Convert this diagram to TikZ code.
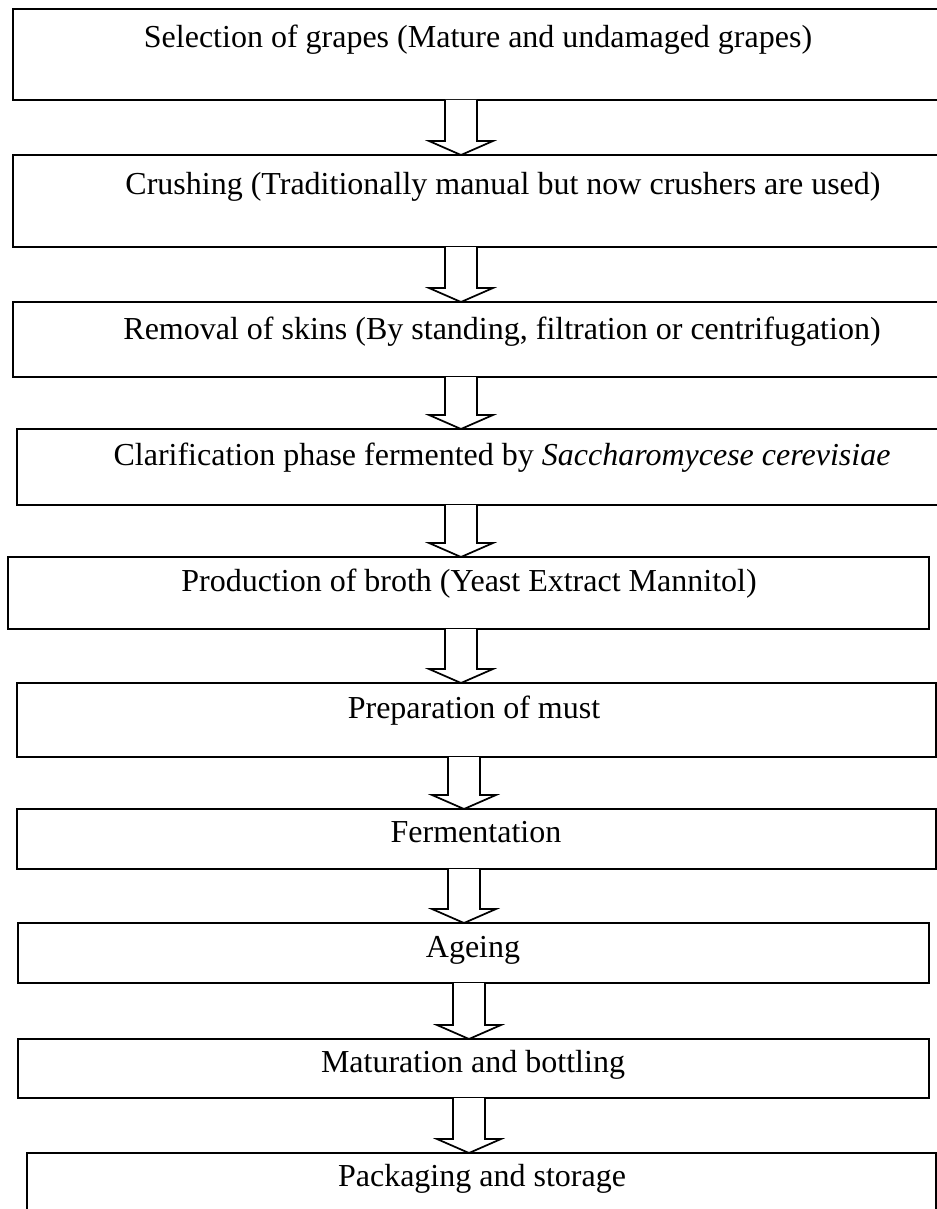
\documentclass[tikz,border=0pt]{standalone}
\usepackage{fontspec}
\setmainfont{Liberation Serif}
\usetikzlibrary{calc}
\tikzset{
  stepbox/.style={draw=black, line width=1.3pt, rectangle, inner sep=0pt, outer sep=0pt, anchor=north west},
  steptext/.style={inner sep=0pt, outer sep=0pt, font=\fontsize{24pt}{28pt}\selectfont, text height=0.7em, text depth=0.22em},
  arr/.style={draw=black, line width=1.3pt, line join=miter, fill=white}
}
\newcommand\flowarr[3]{%
  \draw[arr] ($(#1.south -| #3)+(-16,0)$) -- ($(#2.north -| #3)+(-16,-14)$) -- ($(#2.north -| #3)+(-32,-14)$) -- (#2.north -| #3) -- ($(#2.north -| #3)+(32,-14)$) -- ($(#2.north -| #3)+(16,-14)$) -- ($(#1.south -| #3)+(16,0)$);%
}
\begin{document}
\begin{tikzpicture}[x=0.75pt,y=-0.75pt]
\useasboundingbox (0,0) rectangle (937,1209);
\clip (0,0) rectangle (937,1209);
\fill[white] (0,0) rectangle (937,1209);
% boxes
\node[stepbox, minimum width=699pt,    minimum height=68.25pt] (b1)  at (13,9) {};
\node[stepbox, minimum width=732.75pt, minimum height=69pt]    (b2)  at (13,155) {};
\node[stepbox, minimum width=732.75pt, minimum height=56.25pt] (b3)  at (13,302) {};
\node[stepbox, minimum width=729.75pt, minimum height=57pt]    (b4)  at (17,429) {};
\node[stepbox, minimum width=690.75pt, minimum height=54pt]    (b5)  at (8,557) {};
\node[stepbox, minimum width=689.25pt, minimum height=55.5pt]  (b6)  at (17,683) {};
\node[stepbox, minimum width=689.25pt, minimum height=45pt]    (b7)  at (17,809) {};
\node[stepbox, minimum width=683.25pt, minimum height=45pt]    (b8)  at (18,923) {};
\node[stepbox, minimum width=683.25pt, minimum height=44.25pt] (b9)  at (18,1039) {};
\node[stepbox, minimum width=681.75pt, minimum height=80.25pt] (b10) at (27,1153) {};
% texts
\node[steptext] (t1)  at (478,44)   {Selection of grapes (Mature and undamaged grapes)};
\node[steptext] (t2)  at (503,191)  {Crushing (Traditionally manual but now crushers are used)};
\node[steptext] (t3)  at (502,336)  {Removal of skins (By standing, filtration or centrifugation)};
\node[steptext] (t4)  at (502,462)  {Clarification phase fermented by \textit{Saccharomycese cerevisiae}};
\node[steptext] (t5)  at (469,588)  {Production of broth (Yeast Extract Mannitol)};
\node[steptext] (t6)  at (474,715)  {Preparation of must};
\node[steptext] (t7)  at (476,839)  {Fermentation};
\node[steptext] (t8)  at (473,954)  {Ageing};
\node[steptext] (t9)  at (473,1069) {Maturation and bottling};
\node[steptext] (t10) at (482,1183) {Packaging and storage};
% arrow axes
\coordinate (xa) at (461,0);
\coordinate (xb) at (464,0);
\coordinate (xc) at (469,0);
\flowarr{b1}{b2}{xa}
\flowarr{b2}{b3}{xa}
\flowarr{b3}{b4}{xa}
\flowarr{b4}{b5}{xa}
\flowarr{b5}{b6}{xa}
\flowarr{b6}{b7}{xb}
\flowarr{b7}{b8}{xb}
\flowarr{b8}{b9}{xc}
\flowarr{b9}{b10}{xc}
\end{tikzpicture}
\end{document}
